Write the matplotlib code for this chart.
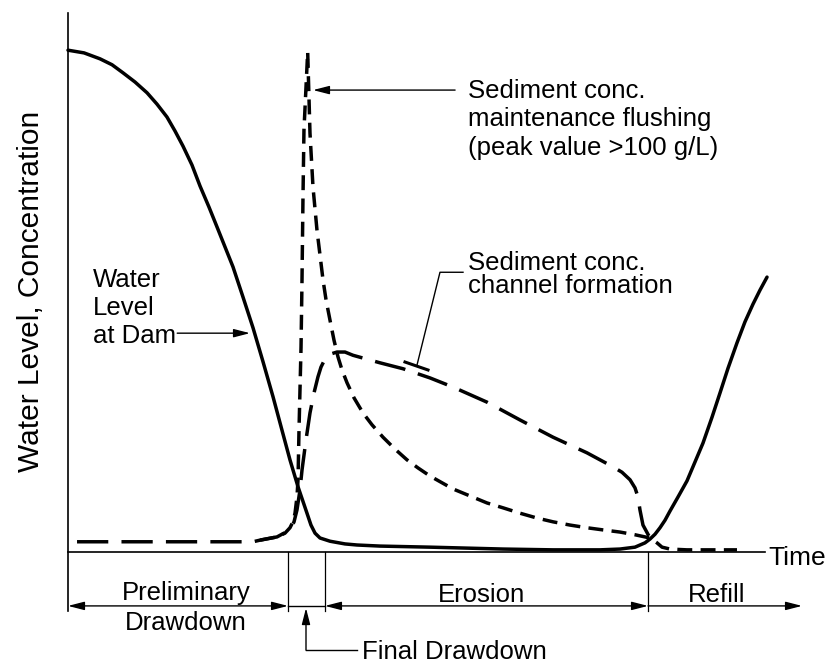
import matplotlib
matplotlib.use('Agg')
import matplotlib.pyplot as plt

plt.rcParams['font.family'] = ['Liberation Sans', 'DejaVu Sans']

# water level at the dam over one flushing cycle (time 0..100, level 0..100)
water_t = [0.0, 2.29, 4.57, 6.29, 7.86, 9.57, 11.29, 12.71, 14.14, 15.29, 16.43,
           17.71, 18.86, 20.14, 21.29, 22.43, 23.57, 25.0, 26.43, 27.86, 29.29,
           30.57, 31.71, 32.86, 34.14, 34.71, 35.29, 36.0, 37.43, 39.57, 41.29,
           44.57, 51.71, 62.14, 69.29, 76.0, 78.86, 81.0, 82.43, 83.14, 83.86,
           84.57, 85.29, 86.0, 87.14, 88.43, 89.57, 90.71, 92.0, 93.14, 94.29,
           95.57, 96.71, 97.86, 98.86, 99.86]
water_lv = [93.1, 92.6, 91.5, 90.4, 88.9, 87.2, 85.2, 83.1, 80.7, 78.1, 75.3,
            71.8, 67.9, 64.0, 60.3, 56.6, 52.9, 47.3, 41.6, 35.3, 28.8,
            22.6, 17.1, 12.1, 7.2, 5.0, 3.5, 2.6, 2.0, 1.5, 1.3,
            1.1, 0.9, 0.55, 0.4, 0.4, 0.55, 0.9, 1.7, 2.4, 3.3,
            4.5, 5.9, 7.6, 10.2, 13.2, 16.7, 20.2, 25.0, 29.5, 34.1,
            38.8, 42.7, 46.0, 48.6, 51.0]

# sediment concentration, maintenance flushing (sharp peak)
flush_t = [27.43, 29.86, 31.0, 31.71, 32.14, 32.43, 32.71, 32.86, 33.0, 33.29, 33.43,
           33.57, 33.71, 34.24, 34.57, 35.0, 35.57, 36.0, 36.43, 36.86, 37.43,
           38.0, 38.57, 39.14, 39.86, 40.86, 42.14, 43.43, 45.0, 46.71, 48.43,
           50.0, 51.71, 55.0, 57.43, 59.86, 62.14, 64.57, 67.0, 69.29, 71.71,
           74.14, 76.43, 78.86, 81.0, 83.14, 84.14, 84.86, 86.0, 88.43, 95.57]
flush_c = [2.2, 2.8, 3.5, 4.5, 5.6, 7.2, 10.2, 13.4, 22.6, 38.0, 50.5,
           65.9, 78.3, 92.8, 77.7, 67.7, 59.7, 55.1, 50.5, 46.8, 43.0,
           39.3, 36.2, 33.8, 31.4, 28.6, 25.8, 23.6, 21.3, 19.1, 17.1,
           15.6, 14.1, 11.7, 10.4, 9.1, 8.2, 7.2, 6.3, 5.6, 5.0,
           4.5, 4.1, 3.7, 3.2, 2.6, 1.7, 0.9, 0.55, 0.4, 0.4]

# sediment concentration, channel formation (broad hump)
chan_t = [1.29, 26.43, 27.43, 29.86, 31.71, 32.29, 32.71, 33.14, 33.43, 34.0, 34.57,
          35.14, 35.71, 36.14, 36.71, 37.43, 38.43, 39.57, 40.71, 44.57, 47.86,
          51.71, 55.0, 59.86, 64.57, 69.29, 74.14, 77.86, 79.14, 80.29, 81.0,
          81.43, 81.71, 82.14, 83.14]
chan_c = [1.9, 1.9, 2.2, 2.8, 4.1, 5.6, 7.8, 11.5, 15.2, 20.8, 25.8,
          29.5, 32.5, 34.3, 35.8, 36.7, 37.1, 37.1, 36.5, 35.1, 34.0,
          32.3, 30.6, 27.8, 24.5, 21.3, 18.4, 15.8, 14.8, 13.4, 11.9,
          10.2, 7.8, 5.0, 2.6]

# phases along the time axis
phase_edges = [0.0, 31.43, 36.71, 82.86]
phase_names = ["Erosion", "Refill"]
phase_label_x = [59.14, 92.71]
refill_end = 104.86

flush_note = ["Sediment conc.", "maintenance flushing", "(peak value >100 g/L)"]
chan_note = ["Sediment conc.", "channel formation"]
water_note = ["Water", "Level", "at Dam"]

W, H = 828, 663
fig = plt.figure(figsize=(W / 100, H / 100), dpi=100)
ax = fig.add_axes([68 / W, 51.7 / H, 700 / W, 598.3 / H])
ax.set_xlim(0, 100)
ax.set_ylim(-11, 100)
for s in ("top", "right", "bottom"):
    ax.spines[s].set_visible(False)
ax.spines["left"].set_linewidth(1.2)
ax.set_xticks([])
ax.set_yticks([])
ax.patch.set_alpha(0)

fs = 18.5
LW = 2.5

# time axis
ax.plot([0, 99.6], [0, 0], color="black", lw=1.2, clip_on=False)
ax.text(100.0, -2.4, "Time", fontsize=19, va="baseline", ha="left", clip_on=False)

# curves
ax.plot(water_t, water_lv, color="black", lw=LW, solid_capstyle="round",
        solid_joinstyle="round", clip_on=False)
ax.plot(flush_t, flush_c, color="black", lw=LW, dashes=(4.3, 2.4), clip_on=False)
ax.plot(chan_t, chan_c, color="black", lw=LW, dashes=(9.0, 3.8), clip_on=False)

# y label
ax.text(-5.29, 48.4, "Water Level, Concentration", rotation=90, fontsize=21.5,
        ha="center", va="center", clip_on=False)

arrow_kw = dict(arrowstyle="-|>,head_length=0.7,head_width=0.18", color="black",
                lw=1.0, mutation_scale=14, shrinkA=0, shrinkB=0)
dbl_kw = dict(arrowstyle="<|-|>,head_length=0.7,head_width=0.18", color="black",
              lw=1.0, mutation_scale=14, shrinkA=0, shrinkB=0)

# flushing annotation
ax.annotate("", xy=(35.0, 85.7), xytext=(55.3, 85.7), arrowprops=arrow_kw,
            annotation_clip=False)
for txt, by in zip(flush_note, [84.2, 79.0, 73.6]):
    ax.text(57.14, by, txt, fontsize=fs, va="baseline", ha="left")

# channel formation annotation
ax.plot([56.43, 53.14, 49.86], [51.9, 51.9, 34.7], color="black", lw=1.0)
ax.plot([48.14, 51.43], [35.25, 33.77], color="black", lw=2.2)
for txt, by in zip(chan_note, [52.3, 48.0]):
    ax.text(57.14, by, txt, fontsize=fs, va="baseline", ha="left")

# water level annotation
for txt, by in zip(water_note, [49.2, 44.0, 38.8]):
    ax.text(3.57, by, txt, fontsize=fs, va="baseline", ha="left")
ax.annotate("", xy=(26.0, 40.6), xytext=(15.6, 40.6), arrowprops=arrow_kw,
            annotation_clip=False)

# phase boxes below the time axis
for xe in phase_edges[1:]:
    ax.plot([xe, xe], [0, -11], color="black", lw=0.9, clip_on=False)

y_arr = -10.0
ax.annotate("", xy=(phase_edges[0], y_arr), xytext=(phase_edges[1], y_arr),
            arrowprops=dbl_kw, annotation_clip=False)
ax.plot([phase_edges[1], phase_edges[2]], [y_arr, y_arr], color="black", lw=1.0,
        clip_on=False)
ax.annotate("", xy=(phase_edges[2], y_arr), xytext=(phase_edges[3], y_arr),
            arrowprops=dbl_kw, annotation_clip=False)
ax.annotate("", xy=(refill_end, y_arr), xytext=(phase_edges[3], y_arr),
            arrowprops=arrow_kw, annotation_clip=False)

ax.text(16.86, -8.9, "Preliminary", fontsize=fs, ha="center", va="baseline",
        clip_on=False)
ax.text(16.86, -14.5, "Drawdown", fontsize=fs, ha="center", va="baseline",
        clip_on=False)
for name, xc in zip(phase_names, phase_label_x):
    ax.text(xc, -9.2, name, fontsize=fs, ha="center", va="baseline", clip_on=False)

# final drawdown pointer
ax.annotate("", xy=(34.0, -10.4), xytext=(34.0, -18.2), arrowprops=arrow_kw,
            annotation_clip=False)
ax.plot([34.0, 41.29], [-18.2, -18.2], color="black", lw=1.0, clip_on=False)
ax.text(42.0, -19.9, "Final Drawdown", fontsize=fs, ha="left", va="baseline",
        clip_on=False)

fig.savefig("out.png", dpi=100, facecolor="white")
